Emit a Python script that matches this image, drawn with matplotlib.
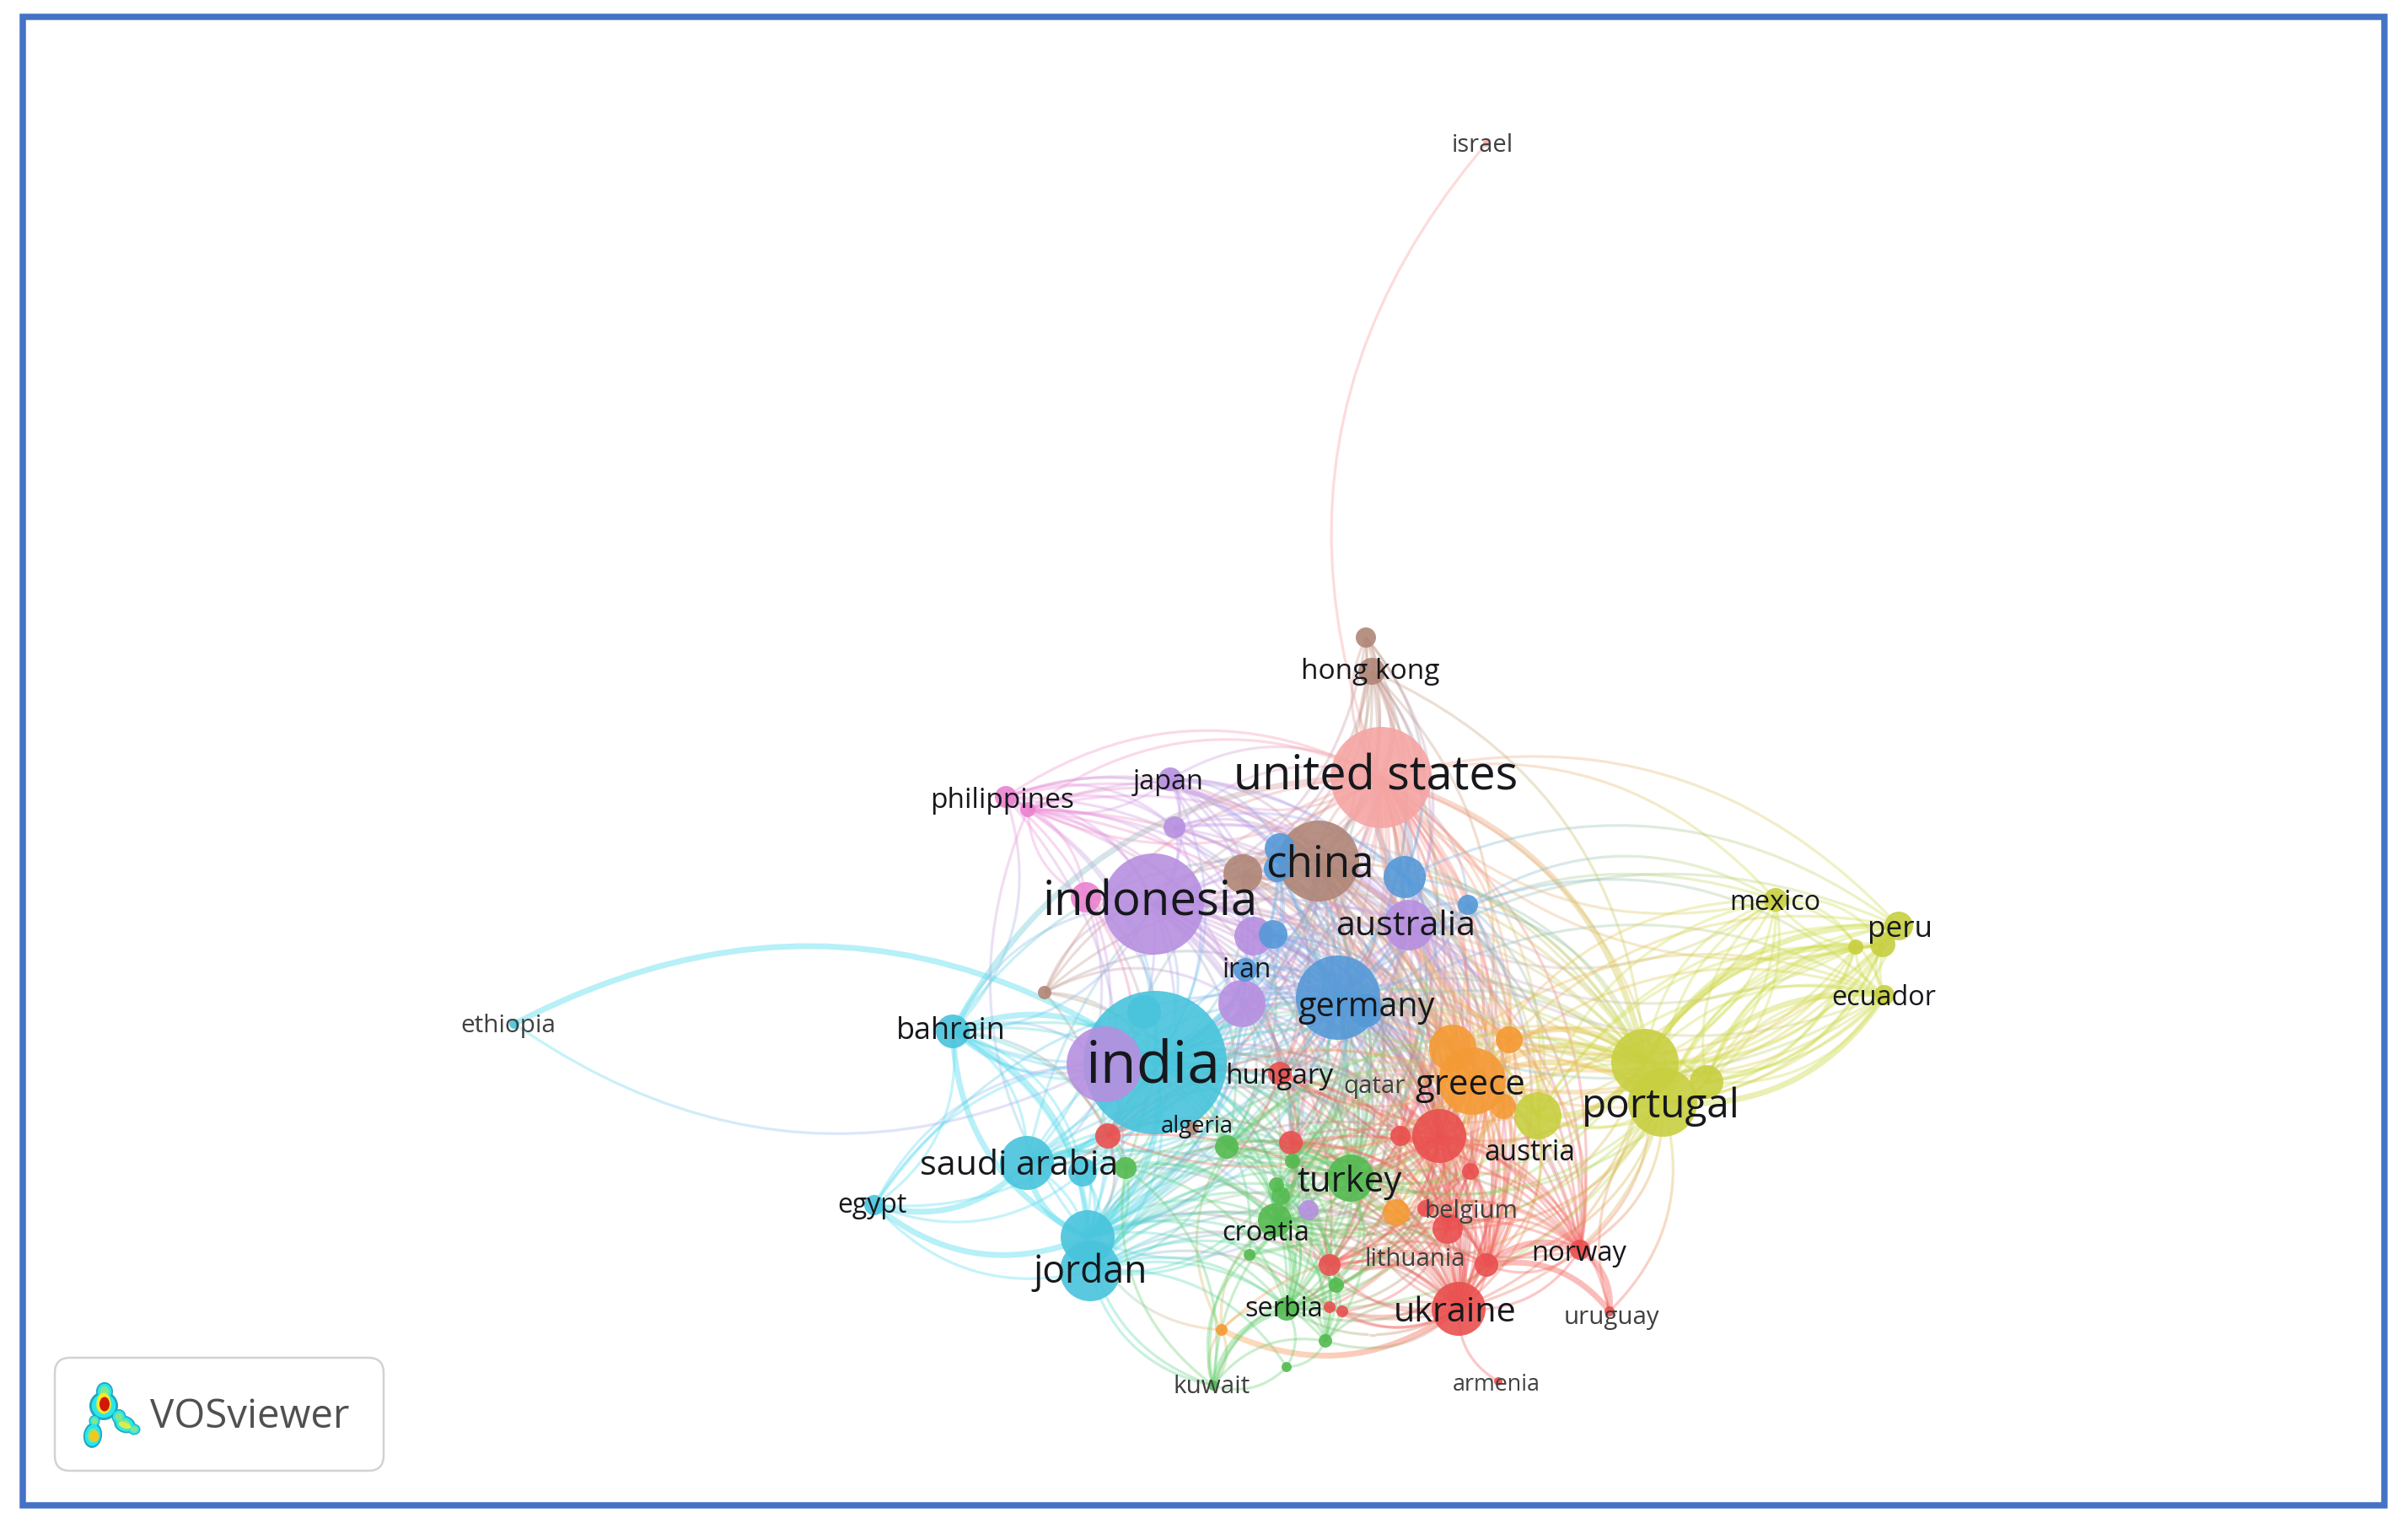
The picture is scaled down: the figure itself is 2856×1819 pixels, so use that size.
import numpy as np
from matplotlib import pyplot as plt
from matplotlib.collections import LineCollection
from matplotlib.colors import to_rgb
from matplotlib.patches import Circle, Ellipse, FancyBboxPatch, Rectangle

W, H = 2856, 1819

colors = {'brown': '#b08677', 'pink': '#f5a5a3', 'purple': '#b78fe0', 'magenta': '#ea82cf',
          'blue': '#5599d8', 'cyan': '#48c4dc', 'orange': '#f59a35', 'yellow': '#c8cf40',
          'red': '#e9504f', 'green': '#54ba50'}
# the links look paler and more saturated than the nodes
link_colors = {'brown': '#c49a8c', 'pink': '#f79a98', 'purple': '#c79cee', 'magenta': '#f08fd8',
               'blue': '#74b2ee', 'cyan': '#55dcee', 'orange': '#f8ae5a', 'yellow': '#cfdc4a',
               'red': '#f4605c', 'green': '#66d070'}

# node positions and radii, in reference pixels
brown_ids = ['hk0', 'hk', 'china', 'br1', 'br2', 'alg']
brown_x = [1620, 1627, 1564, 1474, 1239, 1414]
brown_y = [756, 796, 1021, 1036, 1177, 1338]
brown_r = [12, 16, 48, 23, 8, 8]

pink_ids = ['usa', 'israel']
pink_x = [1638, 1763]
pink_y = [922, 170]
pink_r = [60, 4]

purple_ids = ['indo', 'jap', 'pur1', 'aus', 'pur2', 'pur3', 'pur4', 'pur5']
purple_x = [1368, 1388, 1393, 1671, 1487, 1473, 1310, 1552]
purple_y = [1072, 924, 981, 1097, 1110, 1190, 1262, 1435]
purple_r = [60, 14, 13, 30, 23, 28, 45, 12]

magenta_ids = ['phi1', 'phi2', 'mag1']
magenta_x = [1193, 1219, 1288]
magenta_y = [945, 960, 1064]
magenta_r = [13, 9, 18]

blue_ids = ['ger', 'ger2', 'blu1', 'blu2', 'blu3', 'blu4', 'blu5', 'iran']
blue_x = [1587, 1620, 1518, 1515, 1666, 1741, 1510, 1477]
blue_y = [1183, 1198, 1006, 1030, 1040, 1073, 1108, 1150]
blue_r = [50, 20, 18, 16, 25, 12, 17, 14]

cyan_ids = ['ind', 'ind2', 'bah', 'sau', 'sau2', 'egy', 'jor', 'jor2', 'eth']
cyan_x = [1370, 1357, 1130, 1218, 1284, 1037, 1290, 1293, 610]
cyan_y = [1260, 1200, 1223, 1379, 1390, 1429, 1467, 1507, 1214]
cyan_r = [85, 20, 20, 32, 17, 12, 32, 36, 6]

orange_ids = ['ora1', 'gre', 'ora2', 'ora3', 'ora4', 'ora5']
orange_x = [1723, 1746, 1790, 1783, 1656, 1449]
orange_y = [1243, 1282, 1233, 1312, 1438, 1577]
orange_r = [28, 40, 16, 15, 16, 7]

yellow_ids = ['por', 'por2', 'por3', 'yel1', 'mex', 'per', 'per2', 'per3', 'ecu']
yellow_x = [1951, 1972, 2024, 1824, 2106, 2252, 2233, 2201, 2235]
yellow_y = [1260, 1307, 1283, 1323, 1067, 1098, 1120, 1123, 1180]
yellow_r = [40, 41, 20, 28, 14, 17, 15, 9, 12]

red_ids = ['hun', 'red1', 'red2', 'red3', 'redb', 'red4', 'red5', 'red6', 'red7', 'red8',
           'nor', 'ukr', 'red9', 'red10', 'uru', 'arm']
red_x = [1518, 1314, 1531, 1661, 1707, 1744, 1691, 1717, 1577, 1763, 1874, 1730, 1577, 1592, 1909, 1777]
red_y = [1273, 1347, 1355, 1347, 1347, 1389, 1433, 1457, 1500, 1500, 1482, 1552, 1550, 1555, 1555, 1638]
red_r = [14, 15, 14, 12, 32, 10, 10, 18, 13, 14, 12, 32, 7, 7, 6, 5]

green_ids = ['gr1', 'gr2', 'tur', 'gr3', 'gr4', 'gr5', 'cro', 'gr6', 'gr7', 'ser', 'gr8', 'gr9', 'kuw']
green_x = [1455, 1533, 1602, 1335, 1514, 1519, 1512, 1482, 1585, 1526, 1572, 1526, 1439]
green_y = [1360, 1377, 1397, 1385, 1405, 1418, 1447, 1488, 1524, 1552, 1590, 1621, 1643]
green_r = [14, 9, 28, 13, 9, 11, 20, 7, 9, 14, 8, 6, 6]

# links: each curve bulges to the left of source -> target, seen on screen
links = {
    'usa': 'israel hk0 hk china blu3 blu1 ger aus indo jap phi1 pur3 blu4 gre ora1 ora2 por yel1 redb tur ukr cro red7 jor sau hun per mex mag1 ind red3 red4 red5 red6 red8 nor gr1 gr2 gr4 gr5 ser ora3 ora4 pur2 ger2 por2',
    'hk': 'usa china indo ger aus ind gre por pur3 blu3 br1 tur',
    'hk0': 'china indo ind ger br1 blu3 hk aus',
    'china': 'usa br1 indo ind ger aus gre por tur redb ukr jor sau blu3 iran pur3 jap hun cro ora1 nor red8 red1 red2 red3 red4 red5 red6 red7 gr1 gr2 ora2 ora3 ser',
    'br1': 'ger aus ind gre redb tur por jor ukr red6 ora1 gr1',
    'br2': 'aus ger usa china ind jor gr1 pur3 indo',
    'phi1': 'usa indo ind ger china mag1 pur4 jor bah pur1 blu1 aus',
    'phi2': 'china indo ind ger usa aus pur2 pur3 gre pur1 redb blu3 tur',
    'mag1': 'ind pur3 ger phi2 red1 gr3 sau',
    'jap': 'usa china indo ind pur1 ger aus phi1 blu1 iran pur2 red6',
    'pur1': 'usa china indo ind ger aus gre por redb pur3 blu3',
    'indo': 'china ger aus ind pur3 pur2 gre redb tur ukr por jor sau bah red3 cro hun ora1 ser nor red2 red4 red6 red7 gr1 gr2 yel1 ora2 ora3',
    'aus': 'ger ind gre redb tur por ukr pur3 iran blu4 ora2 nor cro jor red8 hun red3 red6 ora1 ora3',
    'pur2': 'ger aus ind gre tur redb ukr por jor red2 red6 ora1',
    'pur3': 'ger ind gre redb tur ukr por sau jor hun red6 cro bah red2 gr1 gr2 ora1 qat'.replace(' qat', ''),
    'pur4': 'ger sau jor bah eth tur gr1 redb',
    'pur5': 'ind ger aus gre tur ukr jor',
    'ger': 'ind gre ora1 redb tur por ukr cro jor sau hun red3 red6 red8 nor yel1 per ser mex ora4 red2 red4 red5 red7 gr1 gr2 gr4 gr5 ora2 ora3 bah',
    'ger2': 'gre redb ukr por nor ecu red7 ora2 red3',
    'blu1': 'ger ind aus gre redb por ukr tur jor',
    'blu2': 'ind pur3 ger tur red6 cro hun gr2',
    'blu3': 'usa ger ind gre redb por red8 ukr tur nor aus yel1 ora2 per red3',
    'blu4': 'mex ecu por aus ger gre yel1 red8',
    'blu5': 'ger ind gre ukr tur redb hun',
    'iran': 'ger ind gre tur jor sau ukr redb cro',
    'eth': 'ind',
    'ind': 'bah sau sau2 egy jor jor2 gre ora1 redb tur ukr por cro hun red1 gr1 gr3 red2 red3 red6 red7 ser aus yel1 nor ora2 ora3 ora4 red4 red5 gr2 gr4 gr5 gr6 gr7 gr8 red8 por2',
    'bah': 'ind sau jor jor2 egy gr3 red1 indo pur4 gr1 tur usa china sau2',
    'sau': 'egy jor2 gr3 tur cro ger gre usa redb ukr',
    'sau2': 'jor jor2 egy tur gre cro red7',
    'egy': 'ind pur4 ger',
    'jor': 'egy gre tur redb ukr cro ser gr6 gr7 red7 por usa gr2 sau bah phi2 red2 gr1',
    'jor2': 'egy tur ukr ser gr8 gr9 cro red7 red8 ora4 redb gre por red9 gr7 gr4 gr5',
    'gre': 'por por2 yel1 redb tur ukr cro nor red8 ora1 ora2 ora4 red4 red6 hun red7 ser mex per red1 red2 red3 red5 gr1 gr2 gr4 gr5 gr6 red9 ecu ger',
    'ora1': 'por redb tur yel1 red6 ukr gr1 cro ser ecu red2 red8',
    'ora2': 'usa por por2 por3 aus gr1 tur redb ukr yel1 ser nor',
    'ora3': 'por yel1 tur redb ukr cro ser red8',
    'ora4': 'por ukr tur gre nor gr7 cro',
    'ora5': 'cro ser kuw gr1 red8 jor',
    'por': 'yel1 mex per per2 per3 ecu redb tur ukr nor red8 cro red6 usa aus por3 hun red3',
    'por2': 'mex per per2 per3 ecu tur ukr red8 nor uru red6 cro por3 yel1 ser red7',
    'por3': 'mex per per2 per3 ecu tur yel1',
    'yel1': 'mex per per3 ecu nor red8 red6 ukr tur',
    'mex': 'per2 per3 ecu por por2 por3 usa gre aus',
    'per': 'per3 por por3 ora2',
    'per2': 'por por2 por3 gre ora1 usa mex',
    'per3': 'por por2 por3 gre aus',
    'ecu': 'por por2 por3 per3 per2 per gre ora2 aus ger',
    'redb': 'tur ukr nor red8 red6 red7 cro uru ser hun red3 red4 red2 red5 gr1 gr7 gr2',
    'red1': 'jor sau gr3 hun gre tur ger ukr',
    'red2': 'tur ukr red8 red6 nor cro gr6',
    'red3': 'ukr red8 nor tur cro red7 ser',
    'red4': 'ukr red8 nor tur red7 cro',
    'red5': 'ukr red8 nor red7 ser cro',
    'red6': 'ukr red8 nor red7 tur ser red10',
    'red7': 'ukr red8 nor ser tur',
    'red8': 'uru nor ukr red10 ser',
    'nor': 'uru red8 ukr tur',
    'ukr': 'ora5 tur ser cro red7 red9 red10 nor gr8 gr6',
    'arm': 'ukr',
    'uru': 'por2',
    'hun': 'tur ukr jor cro red8 red6',
    'gr1': 'tur cro ser jor2 ukr gr7 gre por',
    'gr2': 'tur cro ser ukr gr8 gre',
    'tur': 'cro ser ukr gr7 gr8 nor red8',
    'gr3': 'jor jor2 kuw cro tur ser',
    'gr4': 'ser jor2 ukr gr8 gre',
    'gr5': 'ser jor2 ukr gr8 gr7 tur',
    'cro': 'ser gr6 gr7 gr8 ukr',
    'gr6': 'ser gr8 ukr',
    'gr7': 'ser gr8',
    'ser': 'gr8 gr9',
    'gr8': 'gr9 ukr',
    'gr9': 'kuw',
    'kuw': 'jor2 jor ser cro ora5 gr3 gr6 gr7 gr8 tur',
}
thick_links = [('eth', 'ind'), ('jor', 'egy'), ('sau', 'egy'), ('jor', 'bah'), ('jor', 'sau'),
               ('bah', 'ind'), ('bah', 'jor'), ('bah', 'usa'), ('ind', 'sau'), ('ind', 'jor'), ('hk', 'usa'),
               ('usa', 'blu3'), ('blu3', 'usa'), ('por2', 'ecu'), ('por', 'per3'), ('ecu', 'por2'),
               ('red8', 'uru'), ('red8', 'nor'), ('nor', 'uru'), ('ora2', 'usa'), ('usa', 'por'),
               ('por', 'yel1'), ('gre', 'por'), ('gre', 'por2'), ('ora2', 'por'), ('por', 'per'),
               ('cro', 'ser'), ('kuw', 'ser'), ('ukr', 'ora5')]

# label text, centre and measured width in reference pixels
label_text = ['united states', 'indonesia', 'china', 'india', 'germany', 'australia', 'iran', 'japan',
              'philippines', 'hong kong', 'israel', 'bahrain', 'hungary', 'qatar', 'greece', 'portugal',
              'mexico', 'peru', 'ecuador', 'austria', 'algeria', 'saudi arabia', 'turkey', 'egypt',
              'belgium', 'croatia', 'lithuania', 'norway', 'jordan', 'serbia', 'ukraine', 'uruguay',
              'kuwait', 'armenia', 'ethiopia']
label_x = [1632, 1364, 1565, 1368, 1621, 1667, 1479, 1386, 1189, 1625, 1758, 1128, 1517, 1630, 1744, 1970,
           2105, 2254, 2234, 1815, 1420, 1209, 1601, 1034, 1745, 1501, 1678, 1873, 1293, 1523, 1726, 1911,
           1437, 1775, 603]
label_y = [922, 1071, 1026, 1265, 1195, 1099, 1150, 927, 949, 796, 172, 1223, 1276, 1288, 1287, 1312,
           1070, 1102, 1183, 1367, 1336, 1383, 1402, 1429, 1436, 1462, 1493, 1486, 1509, 1552, 1557, 1562,
           1644, 1642, 1216]
label_w = [336, 254, 128, 159, 162, 166, 58, 84, 170, 164, 73, 130, 128, 73, 130, 188,
           108, 77, 124, 108, 86, 235, 124, 82, 111, 104, 120, 113, 135, 93, 146, 113,
           91, 104, 113]
label_grey = ['israel', 'ethiopia', 'lithuania', 'uruguay', 'armenia', 'kuwait', 'belgium', 'qatar']

groups = [('magenta', magenta_ids, magenta_x, magenta_y, magenta_r),
          ('brown', brown_ids, brown_x, brown_y, brown_r),
          ('pink', pink_ids, pink_x, pink_y, pink_r),
          ('purple', purple_ids, purple_x, purple_y, purple_r),
          ('blue', blue_ids, blue_x, blue_y, blue_r),
          ('cyan', cyan_ids, cyan_x, cyan_y, cyan_r),
          ('orange', orange_ids, orange_x, orange_y, orange_r),
          ('yellow', yellow_ids, yellow_x, yellow_y, yellow_r),
          ('red', red_ids, red_x, red_y, red_r),
          ('green', green_ids, green_x, green_y, green_r)]

pos = {}
node_color = {}
for name, ids, xs, ys, rs in groups:
    for i in range(len(ids)):
        pos[ids[i]] = (xs[i], ys[i])
        node_color[ids[i]] = np.array(to_rgb(link_colors[name]))

fig = plt.figure(figsize=(W/100, H/100), dpi=100)
ax = fig.add_axes([0, 0, 1, 1])
ax.set_xlim(0, W)
ax.set_ylim(H, 0)
ax.axis('off')


def curve(a, b, bend=0.30, n=24):
    p0 = np.array(pos[a], float)
    p2 = np.array(pos[b], float)
    d = p2 - p0
    c = (p0 + p2)/2. + bend*np.array([d[1], -d[0]])
    t = np.linspace(0, 1, n)[:, None]
    return (1-t)**2*p0 + 2*t*(1-t)*c + t**2*p2


segs, seg_colors, seg_widths = [], [], []
for src, targets in links.items():
    for dst in targets.split():
        pts = curve(src, dst)
        wide = (src, dst) in thick_links
        for k in range(len(pts)-1):
            f = k/(len(pts)-2.)
            rgb = (1-f)*node_color[src] + f*node_color[dst]
            segs.append(pts[k:k+2])
            seg_colors.append((rgb[0], rgb[1], rgb[2], 0.42 if wide else 0.34))
            seg_widths.append(5.0 if wide else 2.3)
ax.add_collection(LineCollection(segs, colors=seg_colors, linewidths=seg_widths, capstyle='butt', zorder=1))

# nodes, big ones first so the small ones stay visible
for name, ids, xs, ys, rs in groups:
    for i in range(len(ids)):
        ax.add_patch(Circle((xs[i], ys[i]), rs[i], fc=colors[name], ec='none', alpha=0.9,
                            zorder=3 + (100-rs[i])*0.001))

# labels are fitted to the width measured on the reference
renderer = fig.canvas.get_renderer()
for i in range(len(label_text)):
    col = '#404040' if label_text[i] in label_grey else '#16181c'
    t = ax.text(label_x[i], label_y[i], label_text[i], family='Open Sans', fontsize=20, color=col,
                ha='center', va='center', zorder=6)
    t.set_fontsize(20*label_w[i]/t.get_window_extent(renderer).width)

# VOSviewer badge
ax.add_patch(FancyBboxPatch((65+18, 1610+18), 390-36, 134-36, boxstyle='round,pad=18', fc='white', ec='#d2d2d2',
                            lw=1.8, zorder=7))
ax.text(178, 1693, 'VOSviewer', family='Open Sans', fontsize=34.2, color='#505050', ha='left', va='baseline', zorder=8)
logo_layers = [('#1fa5bd', 1.0), ('#29e6ee', 0.84), ('#7fe88a', 0.55)]
logo_blobs = [(124, 1650, 20, 22, 0), (123, 1667, 34, 34, 0), (112, 1685, 13, 14, 0), (110, 1702, 22, 30, 8),
              (141, 1680, 17, 18, 0), (148, 1689, 26, 20, 20), (159, 1695, 15, 13, 0)]
for j, (col, s) in enumerate(logo_layers):
    for x, y, w, h, a in logo_blobs:
        ax.add_patch(Ellipse((x, y), w*s, h*s, angle=a, fc=col, ec='none', zorder=8+j*0.1))
ax.add_patch(Ellipse((123, 1664), 17, 25, fc='#f5e82c', ec='none', zorder=9))
ax.add_patch(Ellipse((124, 1665), 12, 17, fc='#d01808', ec='none', zorder=9))
ax.add_patch(Ellipse((112, 1703), 11, 14, fc='#f2c81e', ec='none', zorder=9))
ax.add_patch(Ellipse((148, 1690), 16, 7, angle=20, fc='#d8ee50', ec='none', zorder=9))

# blue frame
ax.add_patch(Rectangle((26.5, 20.5), 2801.5, 1764.5, fc='none', ec='#4472c4', lw=5.4, zorder=10))

fig.savefig('out.png', dpi=100)
